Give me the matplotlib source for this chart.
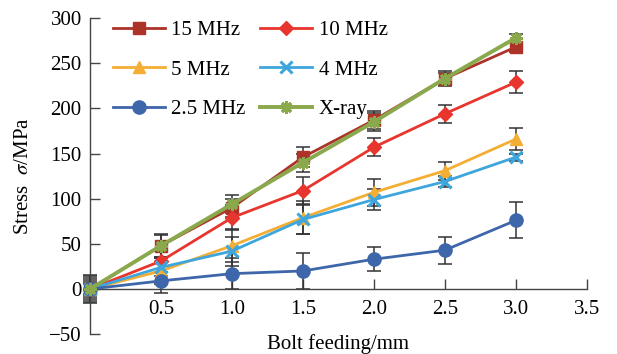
import numpy as np
import matplotlib
matplotlib.use("Agg")
import matplotlib.pyplot as plt

plt.rcParams['font.family'] = ['Liberation Serif', 'DejaVu Serif']
plt.rcParams['mathtext.fontset'] = 'stix'
plt.rcParams['font.size'] = 15

# bolt feeding (mm)
feed = [0, 0.5, 1.0, 1.5, 2.0, 2.5, 3.0]

# stress values (MPa)
s15 = [0, 48, 90, 146, 187, 233, 268]
s10 = [0, 31, 79, 109, 157, 194, 229]
s5 = [0, 20, 48, 79, 107, 131, 166]
s4 = [0, 24, 42, 77, 99, 119, 146]
s25 = [0, 9, 17, 20, 33, 43, 76]
sxray = [0, 48, 94, 140, 185, 233, 278]

# error bar half widths (MPa)
e15 = [14, 13, 10, 11, 10, 8, 6]
e10 = [10, 12, 14, 15, 10, 10, 12]
e5 = [6, 14, 18, 18, 15, 10, 12]
e4 = [8, 10, 16, 16, 12, 6, 4]
e25 = [16, 13, 17, 20, 13, 15, 20]
exray = [12, 12, 10, 10, 10, 6, 4]

labels = ['15 MHz', '10 MHz', '5 MHz', '4 MHz', '2.5 MHz', 'X-ray']
colors = ['#ad3329', '#e8352d', '#f3ae33', '#3ea6dc', '#3e66aa', '#8aa84c']
markers = ['s', 'D', '^', 'x', 'o', (8, 2, 0)]
msizes = [9, 7.5, 9, 8, 9.5, 9]
series = [s15, s10, s5, s4, s25, sxray]
errs = [e15, e10, e5, e4, e25, exray]
widths = [2.0, 2.0, 2.0, 2.0, 2.0, 2.8]

fig = plt.figure(figsize=(6.17, 3.54), dpi=100)
ax = fig.add_axes([0.146, 0.056, 0.805, 0.893])

handles = {}
for lab, col, mk, ms, ys, er, lw in zip(labels, colors, markers, msizes, series, errs, widths):
    ax.errorbar(feed, ys, yerr=er, fmt='none', ecolor='#333333', elinewidth=1.1,
                capsize=5, capthick=1.1, clip_on=False, zorder=2)
    ln, = ax.plot(feed, ys, color=col, marker=mk, markersize=ms, linewidth=lw,
                  markeredgewidth=2.2 if mk in ('x', (8, 2, 0)) else 1,
                  markeredgecolor=col, clip_on=False, zorder=3, label=lab)
    handles[lab] = ln

# legend fills column by column, so reorder to get the row layout of the original
order = ['15 MHz', '5 MHz', '2.5 MHz', '10 MHz', '4 MHz', 'X-ray']
ax.legend([handles[k] for k in order], order, ncol=2, frameon=False,
          loc='upper left', bbox_to_anchor=(0.025, 1.025), borderpad=0,
          handlelength=2.5, handletextpad=0.3, labelspacing=0.95,
          columnspacing=0.7)

ax.set_xlim(0, 3.5)
ax.set_ylim(-50, 300)
ax.set_xticks([0.5, 1.0, 1.5, 2.0, 2.5, 3.0, 3.5])
ax.set_yticks([-50, 0, 50, 100, 150, 200, 250, 300])
ax.spines['top'].set_visible(False)
ax.spines['right'].set_visible(False)
ax.spines['bottom'].set_position(('data', 0))
for sp in ('left', 'bottom'):
    ax.spines[sp].set_color('#444444')
    ax.spines[sp].set_linewidth(1.0)
ax.tick_params(direction='in', length=7, width=1.0, color='#444444', pad=6)
ax.tick_params(axis='x', pad=8)

ax.set_xlabel('Bolt feeding/mm')
ax.xaxis.set_label_coords(0.5, 0.0)
ax.set_ylabel(r'Stress  $\sigma$/MPa')
ax.yaxis.set_label_coords(-0.115, 0.5)

fig.savefig('out.png', dpi=100)
